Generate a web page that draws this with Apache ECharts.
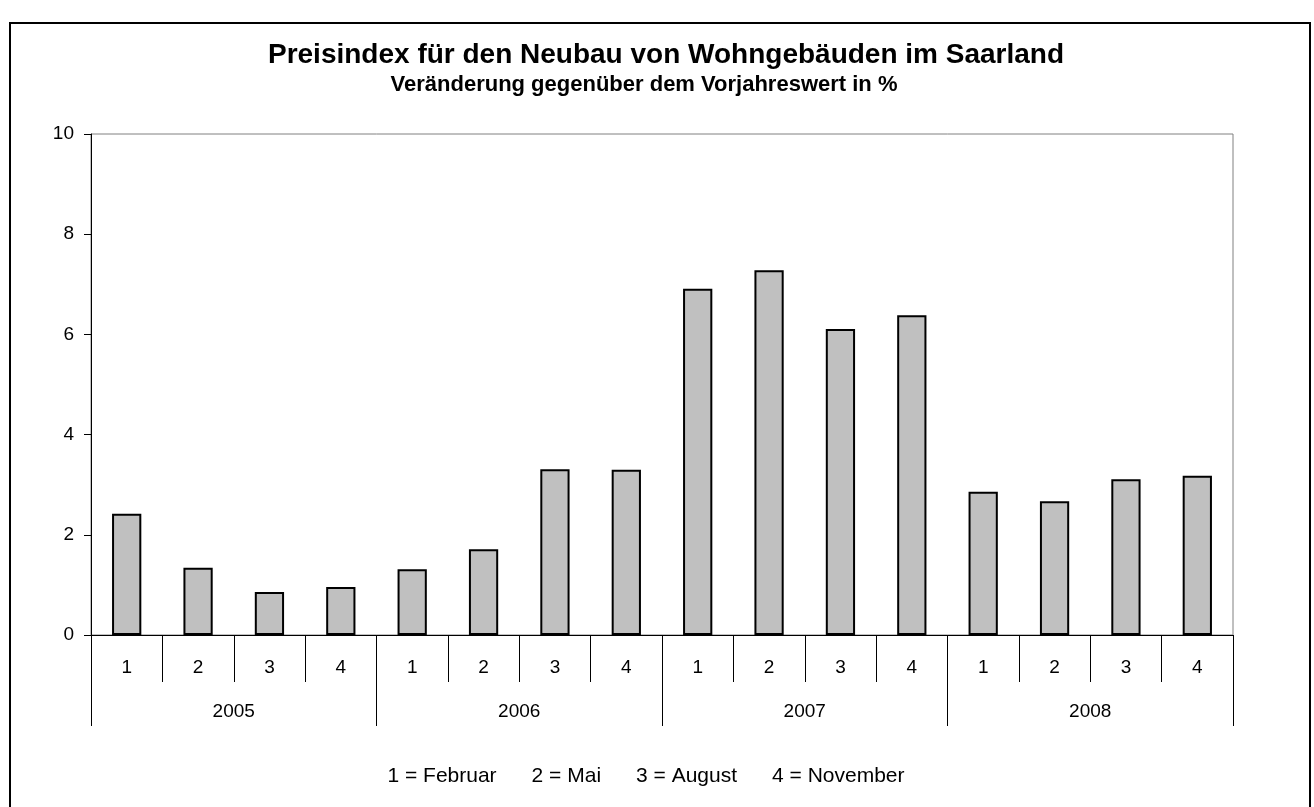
<!DOCTYPE html>
<html>
<head>
<meta charset="utf-8">
<script src="https://cdn.jsdelivr.net/npm/echarts@6/dist/echarts.min.js"></script>
<style>
html,body{margin:0;padding:0;background:#fff;}
#chart{width:1314px;height:807px;}
</style>
</head>
<body>
<div id="chart"></div>
<script>
const quarters = ['1','2','3','4','1','2','3','4','1','2','3','4','1','2','3','4'];
const years = ['2005','2006','2007','2008'];
const values = [2.42, 1.34, 0.86, 0.96, 1.31, 1.71, 3.31, 3.30, 6.91, 7.28, 6.11, 6.38, 2.86, 2.67, 3.11, 3.18];
const yTicks = {min: 0, max: 10, interval: 2};
const titleText = 'Preisindex für den Neubau von Wohngebäuden im Saarland';
const subtitleText = 'Veränderung gegenüber dem Vorjahreswert in %';
const noteText = '1 = Februar      2 = Mai      3 = August      4 = November';

const FONT = 'Arial, "Liberation Sans", sans-serif';
const chart = echarts.init(document.getElementById('chart'), null, {renderer: 'canvas'});
chart.setOption({
  backgroundColor: '#fff',
  animation: false,
  textStyle: {fontFamily: FONT},
  grid: {left: 91, right: 81, top: 134, bottom: 172, show: true, borderColor: '#808080', borderWidth: 1, backgroundColor: 'transparent'},
  xAxis: [
    {
      type: 'category', data: quarters, position: 'bottom',
      axisLine: {show: true, lineStyle: {color: '#000', width: 1}},
      axisTick: {show: true, interval: 0, length: 47, lineStyle: {color: '#000', width: 1}},
      axisLabel: {interval: 0, margin: 23, fontSize: 19, color: '#000', fontFamily: FONT},
      splitLine: {show: false}
    },
    {
      type: 'category', data: years, position: 'bottom',
      axisLine: {show: false},
      axisTick: {show: true, interval: 0, length: 91, lineStyle: {color: '#000', width: 1}},
      axisLabel: {interval: 0, margin: 67, fontSize: 19, color: '#000', fontFamily: FONT},
      splitLine: {show: false}
    }
  ],
  yAxis: {
    type: 'value', min: yTicks.min, max: yTicks.max, interval: yTicks.interval,
    axisLine: {show: true, lineStyle: {color: '#000', width: 1}},
    axisTick: {show: true, length: 7, lineStyle: {color: '#000'}},
    axisLabel: {margin: 17, fontSize: 19, color: '#000', fontFamily: FONT},
    splitLine: {show: false}
  },
  series: [{
    type: 'bar', xAxisIndex: 0, data: values, barWidth: '41%',
    itemStyle: {color: '#c0c0c0', borderColor: '#000', borderWidth: 2}
  }],
  graphic: [
    {type: 'rect', shape: {x: 10, y: 23, width: 1300, height: 820}, style: {fill: 'none', stroke: '#000', lineWidth: 2}, silent: true, z: -1},
    {type: 'text', style: {text: titleText, x: 666, y: 55, textAlign: 'center', textVerticalAlign: 'middle', font: 'bold 28px ' + FONT, fill: '#000'}},
    {type: 'text', style: {text: subtitleText, x: 644, y: 85, textAlign: 'center', textVerticalAlign: 'middle', font: 'bold 22px ' + FONT, fill: '#000'}},
    {type: 'text', style: {text: noteText, x: 646, y: 776, textAlign: 'center', textVerticalAlign: 'middle', font: '21px ' + FONT, fill: '#000'}}
  ]
});
</script>
</body>
</html>
